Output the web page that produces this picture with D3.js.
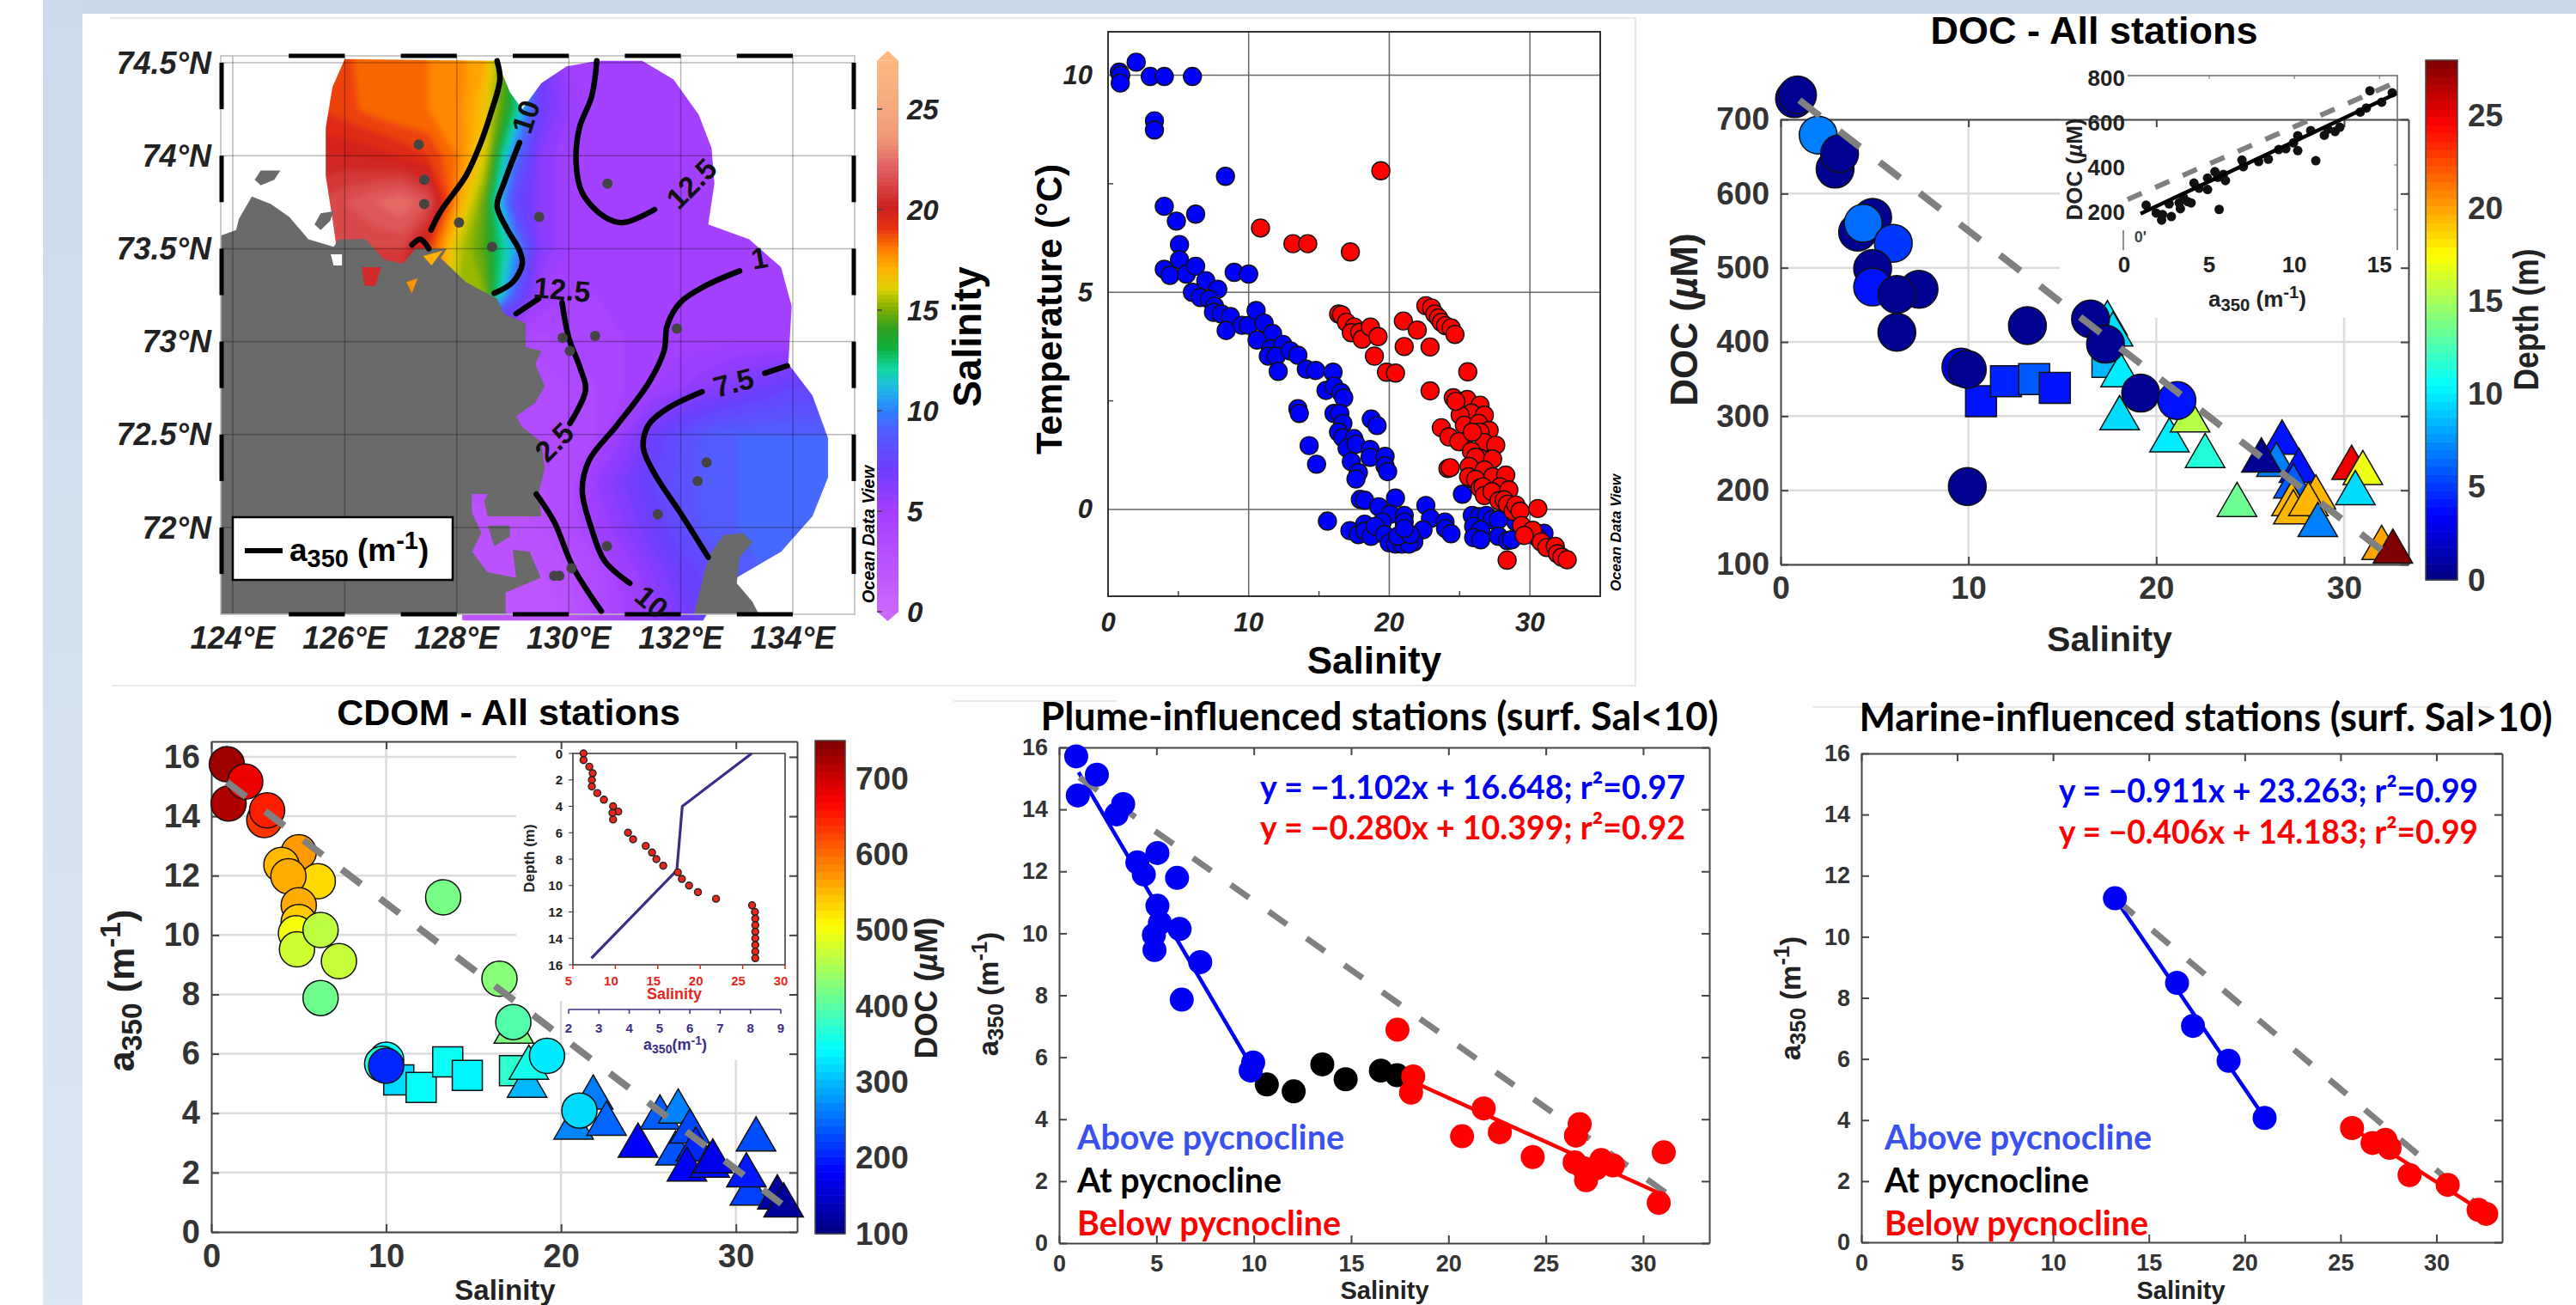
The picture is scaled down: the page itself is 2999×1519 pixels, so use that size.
<!DOCTYPE html>
<html>
<head>
<meta charset="utf-8">
<script src="https://cdn.jsdelivr.net/npm/d3@7"></script>
<style>
  body { margin: 0; background: #fff; }
  text { font-family: "Liberation Sans", Arial, sans-serif; }
  .cal { font-family: Lato, "Open Sans", sans-serif; font-weight: 700; }
</style>
</head>
<body>
<svg id="fig" width="2999" height="1519"></svg>
<script>
//Map data. Salinity on a 0.5 x 0.25 degree grid.
var gridLons = d3.range(125.5, 135.5, 0.5);
var gridLats = d3.range(74.5, 71.25, -0.25);
var salinityGrid = [
  18.7,18.6,18.3,18,18,17.8,17,13.5,7,5,4.5,4.5,4.5,4.5,4.5,4.5,4.5,4.5,4.5,4.5,
  19,18.7,18.3,18,18,17.8,16.5,13,7,5.5,4.5,4.5,4.5,4.5,4.5,4.5,4.5,4.5,4.5,4.5,
  20,20,19.8,19.5,19,18,16,10,6,5,4.5,4.5,4.5,4.5,4.5,4.5,4.5,4.5,4.5,4.5,
  21,21.5,22,22.5,21.5,17.5,14.5,8,6,5,4.5,4.5,4.5,4.5,4.5,4.5,4.5,4.5,4.5,4.5,
  21,21,21,21,19,15.8,14.3,11,6,5,4.5,4.5,4.5,4.5,4.5,4.5,4.5,4.5,4.5,4.5,
  20,20,20,20,18,15.5,15,9,5,4.5,4.5,4.5,4.5,4.5,4.5,4.5,4.6,4.6,4.6,4.6,
  4,4,4,4,4,4,4,4,3.8,4,4.3,4.5,4.5,4.8,4.8,5,5,5,5,5,
  3,3,3,3,3,3,3,3,3,3.5,4,4.5,5,5.5,6,6.5,7,7.5,7.5,7.5,
  3,3,3,3,3,3,3,3,3,3.5,4,5.5,7,8,8.7,9,9,9,9,9,
  3,3,3,3,3,3,3,3,3,3.5,5.5,6.5,7.5,8.2,8.8,9,9,9,9,9,
  2,2,2,2,2,2,2,2,2.5,3.5,5,6,7,8,8.7,9,9,9,9,9,
  2,2,2,2,2,2,2,2,2,2.5,3.5,5,6,7,7.7,8.5,9,9,9,9,
  1.5,1.5,1.5,1.5,1.5,1.5,1.5,1.5,1.5,2,3.5,4.5,5.5,6.5,7.5,8,8.5,9,9,9
];
var salinityDomain = [0,3,5,7,9,10,11,12,13,14,15,16,17,18,19,20,22,23.5,25,27.4];
var salinityColors = ['#cc66ff','#b44dff','#a23fff','#6f3cff','#4f5fff','#2a85ff','#20b8e8','#10d8a0','#10b040','#30a020','#80b000','#e0d000','#ffb000','#ff7a00','#e83010','#cc2020','#e06060','#f09878','#f5a880','#ffb880'];

var surveyOutline = [[126,74.52],[125.78,74.37],[125.66,74.15],[125.66,73.89],[125.78,73.66],[125.9,73.4],[127.5,72.9],[128,72.2],[128.1,71.5],[132.4,71.5],[132.77,71.69],[133.79,71.87],[134.35,72.06],[134.63,72.27],[134.63,72.48],[134.35,72.71],[133.92,72.88],[133.98,73.19],[133.79,73.4],[133.22,73.55],[132.49,73.63],[132.6,73.85],[132.55,74.04],[132.32,74.22],[131.87,74.41],[131.31,74.51],[130.52,74.51],[129.96,74.48],[129.51,74.39],[129.17,74.25],[128.95,74.34],[128.72,74.51]];
var landMain = [[123.7,73.56],[124.06,73.6],[124.11,73.66],[124.34,73.78],[124.68,73.74],[125.01,73.67],[125.35,73.55],[125.8,73.51],[125.9,73.55],[126.37,73.55],[126.71,73.44],[127.04,73.42],[127.26,73.5],[127.82,73.5],[127.71,73.45],[128.16,73.32],[128.72,73.23],[128.84,73.15],[129.23,73.1],[129.23,72.97],[129.51,72.95],[129.4,72.88],[129.57,72.76],[129.4,72.67],[129.06,72.6],[129.17,72.54],[129.51,72.46],[129.57,72.32],[129.46,72.18],[129.51,72.06],[128.55,72.06],[128.49,72.14],[128.55,72.18],[128.27,72.18],[128.27,72.08],[128.44,71.97],[128.27,71.87],[128.55,71.76],[129.06,71.73],[129.0,71.88],[129.3,71.87],[129.5,71.73],[128.87,71.65],[128.87,71.5],[123.7,71.5]];
var landEast = [[132.21,71.5],[132.43,71.77],[132.55,71.87],[132.77,71.96],[133.11,71.97],[133.28,71.92],[133.05,71.84],[133,71.7],[133.28,71.6],[133.45,71.5]];
var landIslands = [
  [[124.39,73.87],[124.5,73.92],[124.85,73.92],[124.74,73.87],[124.5,73.84]],
  [[125.57,73.69],[125.8,73.7],[125.74,73.65],[125.57,73.6],[125.46,73.63]],
  [[128.55,72.01],[128.95,72.01],[128.95,71.95],[128.67,71.9]]
];
var coastPatches = [
  ['#d02a2a', [[126.3,73.4],[126.65,73.4],[126.55,73.3],[126.35,73.3]]],
  ['#ff9000', [[127.1,73.32],[127.3,73.34],[127.2,73.26]]],
  ['#ffb000', [[127.4,73.46],[127.75,73.49],[127.55,73.41]]],
  ['#ffffff', [[125.75,73.47],[125.95,73.47],[125.95,73.41],[125.8,73.41]]]
];
var contourLines = [
  [[128.72,74.51],[128.77,74.41],[128.61,74.23],[128.39,74.04],[128.16,73.89],[127.71,73.7],[127.54,73.6]],
  [[127.2,73.52],[127.35,73.55],[127.5,73.5]],
  [[129.12,74.07],[128.84,73.85],[128.72,73.73],[128.89,73.61],[129.12,73.49],[129.17,73.42],[129,73.32],[128.67,73.26]],
  [[130.5,74.51],[130.41,74.32],[130.19,74.15],[130.13,73.96],[130.24,73.8],[130.64,73.67],[130.97,73.64],[131.53,73.71]],
  [[129.06,73.15],[129.46,73.23]],
  [[129.88,73.21],[130,73.02],[130.2,72.86],[130.3,72.74],[130.02,72.56]],
  [[133.05,73.38],[132.44,73.3],[131.99,73.21],[131.76,73.09],[131.7,72.95],[131.43,72.78],[130.86,72.55],[130.36,72.36],[130.24,72.2],[130.41,71.99],[130.64,71.82],[131.09,71.7]],
  [[133.9,72.87],[133.5,72.83]],
  [[132.38,72.73],[131.76,72.64],[131.42,72.55],[131.33,72.43],[131.53,72.29],[131.99,72.08],[132.49,71.84]],
  [[129.42,72.18],[129.74,72.03],[130.07,71.79],[130.58,71.55]]
];
var contourLabels = [
  ['10',129.23,74.21,-72],['12.5',132.19,73.85,-45],['12.5',129.88,73.28,5],['2.5',129.74,72.46,-45],
  ['7.5',132.94,72.78,-15],['10',131.48,71.6,40],['1',133.4,73.45,-10]
];
var stations = [[127.32,74.06],[127.42,73.87],[127.42,73.74],[128.04,73.64],[128.63,73.51],[129.47,73.67],[130.69,73.85],[129.89,73.02],[130.02,72.95],[130.47,73.03],[131.93,73.07],[132.46,72.35],[132.3,72.25],[131.59,72.07],[130.68,71.9],[129.74,71.74],[129.83,71.74],[130.05,71.78]];
var lonTicks = [124,126,128,130,132,134];
var latTicks = [74.5,74,73.5,73,72.5,72];
var salBarTicks = [0,5,10,15,20,25];

//T-S diagram.
var tsBlue = [[.8,10.07],[.9,10],[.87,9.82],[2,10.3],[3,9.97],[4,9.97],[6,9.97],[3.3,8.95],[3.3,8.74],[8.35,7.67],[4,6.98],[6.23,6.8],[4.86,6.64],[5.08,6.1],[5.08,5.75],[4,5.53],[4.4,5.39],[5.57,5.42],[6.23,5.6],[8.97,5.46],[10,5.42],[6,5],[6.95,5.27],[7.8,5.07],[6.57,4.88],[7.2,4.84],[7.57,4.68],[7.5,4.54],[8.07,4.5],[8.7,4.44],[8.4,4.12],[9.53,4.24],[10,4.24],[10.53,4.58],[11.1,4.29],[11.7,4.05],[10.6,3.9],[11.56,3.7],[12.43,3.8],[11.4,3.53],[11.96,3.53],[12.1,3.18],[12.96,3.65],[13.5,3.55],[14.1,3.23],[14.77,3.2],[16,3.16],[15.5,2.74],[16.07,2.84],[16.57,2.69],[16.76,2.57],[13.5,2.32],[13.6,2.21],[16.07,2.21],[16.48,2.21],[16.7,1.98],[16.39,1.78],[16.7,1.65],[17.48,1.63],[17,1.41],[17.63,1.5],[14.3,1.47],[14.83,1.04],[17.3,1.1],[17.8,.85],[17.63,.7],[18.72,2.08],[19.13,1.93],[18.63,1.38],[18.63,1.2],[19.7,1.22],[19.7,1],[19.88,.87],[17.94,.23],[18.25,.21],[20.44,.26],[15.6,-.27],[19.25,.06],[22.6,.09],[25.2,.35],[20.06,-.11],[21.06,-.14],[22.93,-.21],[23.96,-.29],[24,-.44],[24.39,-.56],[22.4,-.47],[21.74,-.75],[21.2,-.55],[21.06,-.29],[19.5,-.29],[17.2,-.49],[17.8,-.58],[18.25,-.34],[18.25,-.5],[18.7,-.62],[19,-.39],[19.66,-.58],[20,-.77],[20.44,-.8],[20.9,-.8],[21.4,-.8],[20.6,-.62],[21.5,-.58],[21.06,-.44],[25.9,-.14],[26.4,-.17],[26.9,-.14],[27.3,-.24],[27.76,-.24],[26,-.39],[26.5,-.47],[26,-.65],[26.5,-.7],[27.76,-.62],[28.4,-.72],[28.7,-.7],[29,-.29],[31,-.55],[30.55,-.65]];
var tsRed = [[10.84,6.48],[13.15,6.12],[14.2,6.12],[17.23,5.93],[19.4,7.8],[16.4,4.5],[16.6,4.48],[16.95,4.31],[17.5,4.2],[17.3,4.07],[17.9,4.08],[18.07,3.92],[18.66,4.2],[19.2,3.98],[18.94,3.53],[21,4.34],[21.99,4.13],[21.06,3.75],[22.9,3.74],[19.8,3.16],[20.44,3.14],[22.9,2.73],[22.6,4.69],[23,4.64],[23.24,4.5],[23.5,4.41],[23.7,4.31],[24,4.23],[24.4,4.18],[24.67,4.03],[25.58,3.17],[25.54,2.53],[26.45,2.4],[25.84,2.22],[26.76,2.17],[25.04,2.17],[25.34,1.94],[26.36,1.98],[27.1,1.82],[26.45,1.78],[26.76,1.54],[27.57,1.48],[25.04,1.56],[23.7,1.88],[24.24,1.67],[24.95,1.56],[25.84,1.34],[26.45,1.18],[26.14,1.2],[27.35,1.16],[24.17,.94],[24.33,.96],[25.68,.99],[26.76,.91],[27.35,.75],[28.28,.79],[25.76,.71],[25.64,.75],[26.14,.69],[26.45,.49],[26.66,.52],[27.88,.52],[26.76,.32],[27.3,.41],[28.5,.45],[27.8,.2],[28.17,.22],[28.4,.12],[28.8,-.04],[24.55,2.57],[24.73,2.49],[25.9,1.78],[29,.1],[29.3,-.04],[30.56,.02],[29.4,-.37],[30.2,-.48],[29.6,-.6],[30.8,-.75],[31.2,-.88],[31.8,-.85],[31.96,-1.02],[32.27,-1.1],[32.65,-1.16],[28.38,-1.17]];

//DOC panel: salinity, DOC, depth.
var docCircles = [[.74,728,.5],[.9,733,.5],[2,679,7],[2.9,633,.5],[3.14,654,.5],[4.9,568,.5],[4.1,548,.5],[4.4,560,6.5],[6,533,5],[4.9,499,.5],[4.9,474,4],[7.37,471,.5],[6.19,464,.5],[6.19,413,.5],[13.14,422,.5],[9.6,366,2.5],[9.94,363,.5],[9.94,205,.5],[16.5,431,.5],[17.3,397,.5],[19.17,331,.5],[21.1,321,4]];
var docSquares = [[10.67,320,4],[12,347,4.5],[13.5,350,6],[14.6,338,4],[17.4,373,8.5]];
var docTriangles = [[17.4,425,10],[17.7,410,9.5],[18.1,355,10],[18.05,297,9.5],[20.7,267,10],[22.6,246,11.5],[21.8,294,15.5],[24.3,180,13.5],[26.7,264,4],[26.4,234,7],[27.6,226,4],[27.3,205,6],[27.2,181,19.5],[27.3,170,19.5],[28.5,190,19.5],[28.1,181,19.5],[25.6,240,.5],[28.6,153,7],[30.4,230,25],[31,223,17],[30.6,196,9.5],[32,122,20],[32.6,117,28]];
var docDash = [[1,726],[32,119.5]];
var insetDoc = [[1.29,220],[1.88,185],[2.2,153],[2.25,178],[2.77,169],[2.64,226],[3.23,230],[3.3,204],[3.48,255],[3.73,236],[3.93,230],[4.1,319],[4.4,296],[4.9,290],[4.9,341],[5.33,370],[5.58,201],[5.5,345],[5.83,358],[5.95,330],[6.92,422],[7,392],[7.9,415],[8.47,426],[9.08,469],[9.5,473],[9.95,499],[10.2,531],[10.2,464],[10.96,554],[11.26,419],[11.76,533],[11.97,560],[12.39,550],[12.67,569],[13.87,637],[14.23,655],[14.44,732],[15.13,681],[15.75,723]];
var insetDocFit = [[.96,182],[16,720]];
var insetDocDash = [[.2,245],[16.1,774]];

//CDOM panel: salinity, a350, DOC.
var cdomCircles = [[.89,15.75,730],[.99,14.43,720],[1.94,15.17,680],[3.03,13.87,635],[3.19,14.2,650],[5,12.79,570],[4.01,12.36,550],[6.09,11.81,530],[4.41,11.98,560],[5,11,560],[5,10.44,540],[4.84,10.06,500],[4.9,9.52,475],[6.25,10.17,465],[7.3,9.12,470],[6.25,7.88,415],[13.26,11.27,420],[16.48,8.53,430],[17.27,7.07,397],[19.2,5.93,331],[21.05,4.09,320],[10,5.8,345],[9.77,5.66,365],[10,5.6,205]];
var cdomSquares = [[10.72,5.12,320],[12,4.87,347],[13.52,5.73,350],[14.64,5.27,338],[17.34,5.43,373]];
var cdomTriangles = [[17.3,6.74,425],[18.06,4.92,297],[18.16,5.53,355],[20.72,3.51,267],[21.84,4.52,260],[22.6,3.64,246],[24.4,2.9,180],[25.66,3.85,240],[26.7,4.05,264],[26.55,2.64,234],[27.37,3.38,226],[27.7,2.77,205],[27.2,2.1,181],[28.5,2.23,190],[28.68,2.37,170],[31.15,3.11,230],[30.8,1.29,223],[30.6,1.9,196],[32.37,1.16,122],[32.73,.89,117]];
var cdomDash = [[.89,15.15],[32.6,.95]];
var profileSal = [[6.25,0],[6.25,.5],[6.93,1],[7.33,1.5],[7.23,2],[7.23,2.5],[7.87,3],[8.65,3.5],[9.73,4],[10.34,4.4],[9.66,4.5],[9.73,5],[11.49,6],[12.09,6.5],[13.58,7],[14.32,7.5],[14.83,8],[15.64,8.5],[17.36,9],[17.84,9.5],[18.68,10],[19.73,10.5],[21.86,11],[26.11,11.5],[26.45,12],[26.49,12.5],[26.49,13],[26.49,13.5],[26.49,14],[26.49,14.5],[26.49,15],[26.49,15.5]];
var profileA350 = [[8.04,0],[5.75,4],[5.57,8.85],[2.75,15.5]];

//Plume panel.
var plumeAbove = [[.88,15.71],[.96,14.45],[1.94,15.12],[3.29,14.17],[2.95,13.84],[5.05,12.59],[4.02,12.29],[4.35,11.9],[6.06,11.79],[5.05,10.89],[5.18,10.33],[4.87,9.95],[4.9,9.46],[6.19,10.14],[7.25,9.07],[6.3,7.86],[9.97,5.83],[9.84,5.57]];
var plumeAt = [[10.67,5.12],[12.05,4.9],[13.52,5.77],[14.72,5.29],[16.53,5.57],[17.36,5.42]];
var plumeBelow = [[17.38,6.89],[18.19,5.38],[18.08,4.86],[20.7,3.45],[21.81,4.35],[22.64,3.58],[24.33,2.78],[26.74,3.84],[26.55,3.47],[26.48,2.61],[26.94,2.42],[27.07,2.03],[27.59,2.42],[27.85,2.68],[28.45,2.51],[31.06,2.93],[30.8,1.3]];
var plumeFitAbove = [[1,15.2],[9.8,5.8]];
var plumeFitBelow = [[17.36,5.44],[30.7,1.65]];
var plumeDash = [[1.04,15.03],[31.7,1.39]];

//Marine panel.
var marineAbove = [[13.23,11.26],[16.47,8.49],[17.3,7.08],[19.16,5.94],[21.04,4.07]];
var marineBelow = [[25.6,3.74],[26.67,3.25],[27.34,3.35],[27.56,3.09],[28.6,2.2],[30.59,1.88],[32.2,1.06],[32.6,.93]];
var marineFitAbove = [[13.23,11.26],[21.04,4.07]];
var marineFitBelow = [[25.6,3.74],[32.6,.93]];
var marineDash = [[13.33,11.2],[32.65,.96]];

var salTicks10 = [0,10,20,30];
var salTicks5 = [0,5,10,15,20,25,30];
var a350Ticks = [0,2,4,6,8,10,12,14,16];
var docTicks = [100,200,300,400,500,600,700];

var svg = d3.select('#fig');

//Page background.
var grad = svg.append('defs').append('linearGradient').attr('id', 'side')
  .attr('x1', 0).attr('x2', 0).attr('y1', 0).attr('y2', 1);
grad.append('stop').attr('offset', 0).attr('stop-color', '#cbdaec');
grad.append('stop').attr('offset', 1).attr('stop-color', '#dce7f4');
svg.append('rect').attr('x', 50).attr('y', 0).attr('width', 2949).attr('height', 16).attr('fill', '#c9d8ea');
svg.append('rect').attr('x', 50).attr('y', 0).attr('width', 46).attr('height', 1519).attr('fill', 'url(#side)');
svg.append('path').attr('d', 'M128 21H1904V798H130').attr('fill', 'none').attr('stroke', '#e2e2e2').attr('stroke-width', 1.5);
svg.append('path').attr('d', 'M1110 816H1300M2111 823H2900').attr('fill', 'none').attr('stroke', '#e2e2e2').attr('stroke-width', 1.5);

//Jet colormap used by the two colorbars.
var jet = d3.scaleLinear()
  .domain([0, .125, .375, .625, .875, 1])
  .range(['#00007f', '#0000ff', '#00ffff', '#ffff00', '#ff0000', '#7f0000']);

function addText(sel, x, y, str, size, opts) {
  opts = opts || {};
  var t = sel.append('text').attr('x', x).attr('y', y).text(str)
    .attr('font-size', size)
    .attr('font-weight', opts.weight || 'bold')
    .attr('fill', opts.fill || '#000')
    .attr('text-anchor', opts.anchor || 'middle')
    .attr('dominant-baseline', 'central');
  if (opts.italic) t.attr('font-style', 'italic');
  if (opts.cal) t.attr('class', 'cal');
  if (opts.len) t.attr('textLength', opts.len).attr('lengthAdjust', 'spacingAndGlyphs');
  if (opts.rotate !== undefined) t.attr('transform', 'rotate(' + opts.rotate + ' ' + x + ' ' + y + ')');
  return t;
}

//Appends a350 (m-1) with the sub and superscript
function a350Label(sel, x, y, size, opts) {
  opts = opts || {};
  var t = addText(sel, x, y, '', size, opts);
  var subSize = size * 0.78;
  t.append('tspan').text('a');
  t.append('tspan').attr('font-size', subSize).attr('dy', size * 0.28).text('350');
  t.append('tspan').attr('dy', -size * 0.28).text(opts.tight ? '(m' : ' (m');
  t.append('tspan').attr('font-size', subSize).attr('dy', -size * 0.3).text('-1');
  t.append('tspan').attr('dy', size * 0.3).text(')');
  return t;
}

function addDocLabel(sel, x, y, size, opts) {
  var t = addText(sel, x, y, 'DOC  (', size, opts);
  t.append('tspan').attr('font-style', 'italic').text('\u00b5');
  t.append('tspan').text('M)');
  return t;
}

//Box axes with inward ticks, the way MATLAB draws them.
function boxAxes(g, xS, yS, xTicks, yTicks, size, color) {
  var r = xS.range(), b = yS.range();
  var bottom = d3.axisBottom(xS).tickValues(xTicks).tickSizeInner(-9).tickSizeOuter(0).tickPadding(14).tickFormat(d3.format('d'));
  var left = d3.axisLeft(yS).tickValues(yTicks).tickSizeInner(-9).tickSizeOuter(0).tickPadding(13).tickFormat(d3.format('d'));
  var top = d3.axisTop(xS).tickValues(xTicks).tickSizeInner(-9).tickSizeOuter(0).tickFormat('');
  var right = d3.axisRight(yS).tickValues(yTicks).tickSizeInner(-9).tickSizeOuter(0).tickFormat('');
  var axes = [
    [bottom, 0, b[0]], [left, r[0], 0], [top, 0, b[1]], [right, r[1], 0]
  ];
  axes.forEach(function(a) {
    var ag = g.append('g').attr('transform', 'translate(' + a[1] + ',' + a[2] + ')').call(a[0]);
    ag.selectAll('path,line').attr('stroke', color || '#444').attr('stroke-width', 2);
    ag.selectAll('text').attr('font-size', size).attr('font-weight', 'bold').attr('fill', '#333')
      .attr('font-family', '"Liberation Sans", Arial, sans-serif');
  });
}

function gridLines(g, xS, yS, xTicks, yTicks) {
  g.selectAll('.gx').data(xTicks).enter().append('line')
    .attr('x1', xS).attr('x2', xS).attr('y1', yS.range()[0]).attr('y2', yS.range()[1])
    .attr('stroke', '#dcdcdc').attr('stroke-width', 2.5);
  g.selectAll('.gy').data(yTicks).enter().append('line')
    .attr('y1', yS).attr('y2', yS).attr('x1', xS.range()[0]).attr('x2', xS.range()[1])
    .attr('stroke', '#dcdcdc').attr('stroke-width', 2.5);
}

function drawLine(g, pts, xS, yS, color, width, dash) {
  var l = g.append('line')
    .attr('x1', xS(pts[0][0])).attr('y1', yS(pts[0][1]))
    .attr('x2', xS(pts[1][0])).attr('y2', yS(pts[1][1]))
    .attr('stroke', color).attr('stroke-width', width);
  if (dash) l.attr('stroke-dasharray', dash);
  return l;
}

function drawDots(g, pts, xS, yS, r, fill, stroke) {
  g.append('g').selectAll('circle').data(pts).enter().append('circle')
    .attr('cx', function(d) { return xS(d[0]); })
    .attr('cy', function(d) { return yS(d[1]); })
    .attr('r', r).attr('fill', fill)
    .attr('stroke', stroke || 'none').attr('stroke-width', stroke ? 1.4 : 0);
}

function drawSymbols(g, pts, type, size, xS, yS, color) {
  g.append('g').selectAll('path').data(pts).enter().append('path')
    .attr('d', d3.symbol().type(type).size(size))
    .attr('transform', function(d) { return 'translate(' + xS(d[0]) + ',' + yS(d[1]) + ')'; })
    .attr('fill', function(d) { return color(d[2]); })
    .attr('stroke', '#111').attr('stroke-width', 1.5);
}

function colorBar(g, x, w, cS, ticks, labelX, size) {
  var dom = cS.domain();
  var steps = d3.range(64);
  var step = (dom[1] - dom[0]) / 64;
  g.selectAll('.bar').data(steps).enter().append('rect')
    .attr('x', x).attr('width', w)
    .attr('y', function(i) { return cS(dom[0] + (i + 1) * step); })
    .attr('height', function(i) { return cS(dom[0] + i * step) - cS(dom[0] + (i + 1) * step) + .6; })
    .attr('fill', function(i) { return jet((i + .5) / 64); });
  g.append('rect').attr('x', x).attr('y', cS.range()[1]).attr('width', w)
    .attr('height', cS.range()[0] - cS.range()[1]).attr('fill', 'none').attr('stroke', '#444').attr('stroke-width', 1.5);
  ticks.forEach(function(t) {
    addText(g, labelX, cS(t), t, size, { anchor: 'start', fill: '#333' });
  });
}

//Panel A: the salinity map.
var mapG = svg.append('g');
var lonS = d3.scaleLinear().domain([124, 134]).range([271, 923]);
var latS = d3.scaleLinear().domain([74.5, 72]).range([73, 614]);
var lonLat = d3.line().x(function(d) { return lonS(d[0]); }).y(function(d) { return latS(d[1]); });
var defs = svg.select('defs');
defs.append('clipPath').attr('id', 'survey').append('path').attr('d', lonLat(surveyOutline) + 'Z');
defs.append('clipPath').attr('id', 'mapFrame').append('rect').attr('x', 257).attr('y', 65).attr('width', 738).attr('height', 650);
defs.append('filter').attr('id', 'soft').append('feGaussianBlur').attr('stdDeviation', 3);

var salColor = d3.scaleLinear().domain(salinityDomain).range(salinityColors);
var gridToMap = d3.geoTransform({
  point: function(px, py) {
    this.stream.point(lonS(gridLons[0] + (px - .5) * .5), latS(gridLats[0] - (py - .5) * .25));
  }
});
var bands = d3.contours().size([gridLons.length, gridLats.length]).thresholds(d3.range(0, 27.5, .5))(salinityGrid);
var fieldG = mapG.append('g').attr('clip-path', 'url(#survey)').append('g').attr('filter', 'url(#soft)');
fieldG.selectAll('path').data(bands).enter().append('path')
  .attr('d', d3.geoPath(gridToMap))
  .attr('fill', function(d) { return salColor(d.value + .25); });

var landG = mapG.append('g').attr('clip-path', 'url(#mapFrame)');
[landMain, landEast].concat(landIslands).forEach(function(poly) {
  landG.append('path').attr('d', lonLat(poly) + 'Z').attr('fill', '#6a6a6a');
});
coastPatches.forEach(function(p) {
  landG.append('path').attr('d', lonLat(p[1]) + 'Z').attr('fill', p[0]);
});

lonTicks.forEach(function(lon) {
  mapG.append('line').attr('x1', lonS(lon)).attr('x2', lonS(lon)).attr('y1', 65).attr('y2', 715)
    .attr('stroke', '#000').attr('stroke-opacity', .28).attr('stroke-width', 1.5);
  addText(mapG, lonS(lon), 742, lon + '\u00b0E', 36, { italic: true, fill: '#222' });
});
latTicks.forEach(function(lat) {
  mapG.append('line').attr('x1', 257).attr('x2', 995).attr('y1', latS(lat)).attr('y2', latS(lat))
    .attr('stroke', '#000').attr('stroke-opacity', .28).attr('stroke-width', 1.5);
  addText(mapG, 246, latS(lat), lat + '\u00b0N', 36, { italic: true, anchor: 'end', fill: '#222' });
});

//Dashed frame
mapG.append('rect').attr('x', 257).attr('y', 65).attr('width', 738).attr('height', 650)
  .attr('fill', 'none').attr('stroke', '#bbb').attr('stroke-width', 1.5);
d3.range(125, 134, 2).forEach(function(lon) {
  [65, 715].forEach(function(y) {
    mapG.append('line').attr('x1', lonS(lon)).attr('x2', lonS(lon + 1)).attr('y1', y).attr('y2', y)
      .attr('stroke', '#000').attr('stroke-width', 5);
  });
});
d3.range(71.75, 74.5, .5).forEach(function(lat) {
  [258, 994].forEach(function(x) {
    mapG.append('line').attr('x1', x).attr('x2', x).attr('y1', latS(lat + .25)).attr('y2', latS(lat))
      .attr('stroke', '#000').attr('stroke-width', 5);
  });
});

var contourPath = d3.line().x(function(d) { return lonS(d[0]); }).y(function(d) { return latS(d[1]); }).curve(d3.curveCatmullRom);
mapG.selectAll('.iso').data(contourLines).enter().append('path')
  .attr('d', contourPath).attr('fill', 'none').attr('stroke', '#000').attr('stroke-width', 6.5).attr('stroke-linecap', 'round');
contourLabels.forEach(function(d) {
  addText(mapG, lonS(d[1]), latS(d[2]), d[0], 34, { rotate: d[3], fill: '#111' });
});
drawDots(mapG, stations, lonS, latS, 6, '#444');

//Map legend
mapG.append('rect').attr('x', 271).attr('y', 602).attr('width', 256).attr('height', 73)
  .attr('fill', '#fff').attr('stroke', '#000').attr('stroke-width', 2.5);
mapG.append('line').attr('x1', 285).attr('x2', 329).attr('y1', 641).attr('y2', 641).attr('stroke', '#000').attr('stroke-width', 6);
a350Label(mapG, 337, 640, 37, { anchor: 'start' });

//Salinity colorbar with its end caps.
var salBar = d3.scaleLinear().domain([0, 25]).range([712, 127]);
d3.range(0, 27.4, .2).forEach(function(v) {
  mapG.append('rect').attr('x', 1021).attr('width', 25).attr('y', salBar(v + .2)).attr('height', salBar(v) - salBar(v + .2) + .6)
    .attr('fill', salColor(v));
});
mapG.append('path').attr('d', 'M1021 ' + salBar(27.4) + 'L1033.5 59L1046 ' + salBar(27.4) + 'Z').attr('fill', '#ffb880');
mapG.append('path').attr('d', 'M1021 ' + salBar(0) + 'L1033.5 723L1046 ' + salBar(0) + 'Z').attr('fill', '#cc66ff');
salBarTicks.forEach(function(t) {
  addText(mapG, 1056, salBar(t), t, 33, { anchor: 'start', italic: true, fill: '#222' });
  mapG.append('line').attr('x1', 1021).attr('x2', 1027).attr('y1', salBar(t)).attr('y2', salBar(t)).attr('stroke', '#444').attr('stroke-width', 1.5);
});
addText(mapG, 1126, 392, 'Salinity', 46, { rotate: -90 });
addText(mapG, 1011, 622, 'Ocean Data View', 20, { rotate: -90, italic: true });

//Panel B: temperature vs salinity.
var tsG = svg.append('g');
var tsX = d3.scaleLinear().domain([0, 35]).range([1290, 1863]);
var tsY = d3.scaleLinear().domain([-2, 11]).range([694, 37]);
salTicks10.slice(1).forEach(function(v) {
  tsG.append('line').attr('x1', tsX(v)).attr('x2', tsX(v)).attr('y1', 37).attr('y2', 694).attr('stroke', '#666').attr('stroke-width', 1.5);
});
[0, 5, 10].forEach(function(v) {
  tsG.append('line').attr('x1', 1290).attr('x2', 1863).attr('y1', tsY(v)).attr('y2', tsY(v)).attr('stroke', '#666').attr('stroke-width', 1.5);
  addText(tsG, 1272, tsY(v), v, 31, { anchor: 'end', italic: true, fill: '#222' });
});
salTicks10.forEach(function(v) {
  addText(tsG, tsX(v), 724, v, 31, { italic: true, fill: '#222' });
});
[5, 15, 25, 35].forEach(function(v) {
  tsG.append('line').attr('x1', tsX(v)).attr('x2', tsX(v)).attr('y1', 694).attr('y2', 688).attr('stroke', '#444').attr('stroke-width', 1.5);
});
[2.5, 7.5].forEach(function(v) {
  tsG.append('line').attr('x1', 1290).attr('x2', 1296).attr('y1', tsY(v)).attr('y2', tsY(v)).attr('stroke', '#444').attr('stroke-width', 1.5);
});
drawDots(tsG, tsBlue, tsX, tsY, 10.5, '#0000ff', '#111');
drawDots(tsG, tsRed, tsX, tsY, 10.5, '#ff0000', '#111');
tsG.append('rect').attr('x', 1290).attr('y', 37).attr('width', 573).attr('height', 657).attr('fill', 'none').attr('stroke', '#333').attr('stroke-width', 2);
addText(tsG, 1600, 768, 'Salinity', 44);
addText(tsG, 1221, 360, 'Temperature (\u00b0C)', 42, { rotate: -90 });
addText(tsG, 1881, 620, 'Ocean Data View', 17, { rotate: -90, italic: true });

//Panel C: DOC vs salinity.
var docG = svg.append('g');
var docX = d3.scaleLinear().domain([0, 33.43]).range([2073, 2804]);
var docY = d3.scaleLinear().domain([100, 700]).range([657, 139]);
var docDepthColor = function(v) { return jet(v / 28); };
gridLines(docG, docX, docY, salTicks10.slice(1), docTicks);
docG.append('rect').attr('x', 2398).attr('y', 74).attr('width', 403).attr('height', 296).attr('fill', '#fff');
boxAxes(docG, docX, docY, salTicks10, docTicks, 37);
drawSymbols(docG, docSquares, d3.symbolSquare, 1296, docX, docY, docDepthColor);
drawSymbols(docG, docTriangles, d3.symbolTriangle, 916, docX, docY, docDepthColor);
docG.append('g').selectAll('circle').data(docCircles).enter().append('circle')
  .attr('cx', function(d) { return docX(d[0]); }).attr('cy', function(d) { return docY(d[1]); })
  .attr('r', 22).attr('fill', function(d) { return docDepthColor(d[2]); }).attr('stroke', '#111').attr('stroke-width', 1.5);
drawLine(docG, docDash, docX, docY, '#808080', 8, '30 29');
addText(docG, 2438, 35, 'DOC - All stations', 45);
addText(docG, 2456, 744, 'Salinity', 41, { fill: '#222' });
addDocLabel(docG, 1960, 372, 44, { rotate: -90, fill: '#222' });
var depthBar = d3.scaleLinear().domain([0, 28]).range([675, 70]);
colorBar(docG, 2824, 37, depthBar, [0, 5, 10, 15, 20, 25], 2873, 37);
addText(docG, 2941, 372, 'Depth (m)', 40, { rotate: -90, fill: '#222', len: 165 });

//DOC inset
var inG = svg.append('g');
var inX = d3.scaleLinear().domain([0, 16]).range([2473, 2790]);
var inY = d3.scaleLinear().domain([0, 800]).range([296, 88]);
inG.append('path').attr('d', 'M2477 88H2791V291M2472 268V291').attr('fill', 'none').attr('stroke', '#666').attr('stroke-width', 1.5);
[5, 10, 15].forEach(function(v) {
  inG.append('line').attr('x1', inX(v)).attr('x2', inX(v)).attr('y1', 88).attr('y2', 92).attr('stroke', '#666');
});
[200, 400, 600].forEach(function(v) {
  inG.append('line').attr('x1', 2791).attr('x2', 2787).attr('y1', inY(v)).attr('y2', inY(v)).attr('stroke', '#666');
});
[200, 400, 600, 800].forEach(function(v) {
  addText(inG, 2474, inY(v) + 3, v, 26, { anchor: 'end', fill: '#222' });
});
[0, 5, 10, 15].forEach(function(v) {
  addText(inG, inX(v), 308, v, 26, { fill: '#222' });
});
addText(inG, 2492, 276, "0'", 18, { fill: '#444' });
drawLine(inG, insetDocDash, inX, inY, '#808080', 6, '18 17');
drawDots(inG, insetDoc, inX, inY, 5.5, '#111');
drawLine(inG, insetDocFit, inX, inY, '#000', 4.5);
addDocLabel(inG, 2415, 197, 26, { rotate: -90, fill: '#222' });
a350Label(inG, 2628, 348, 26, { fill: '#222' });

//Panel D: CDOM vs salinity.
var cdomG = svg.append('g');
var cdomX = d3.scaleLinear().domain([0, 33.5]).range([246, 928]);
var cdomY = d3.scaleLinear().domain([0, 16.52]).range([1434, 863]);
var cdomDocColor = function(v) { return jet((v - 100) / 650); };
gridLines(cdomG, cdomX, cdomY, salTicks10.slice(1), a350Ticks);
cdomG.append('rect').attr('x', 601).attr('y', 865).attr('width', 325).attr('height', 300).attr('fill', '#fff');
cdomG.append('rect').attr('x', 663).attr('y', 1160).attr('width', 263).attr('height', 74).attr('fill', '#fff');
boxAxes(cdomG, cdomX, cdomY, salTicks10, a350Ticks, 38);
drawSymbols(cdomG, cdomSquares, d3.symbolSquare, 1225, cdomX, cdomY, cdomDocColor);
drawSymbols(cdomG, cdomTriangles, d3.symbolTriangle, 916, cdomX, cdomY, cdomDocColor);
cdomG.append('g').selectAll('circle').data(cdomCircles).enter().append('circle')
  .attr('cx', function(d) { return cdomX(d[0]); }).attr('cy', function(d) { return cdomY(d[1]); })
  .attr('r', 20.5).attr('fill', function(d) { return cdomDocColor(d[2]); }).attr('stroke', '#111').attr('stroke-width', 1.5);
drawLine(cdomG, cdomDash, cdomX, cdomY, '#808080', 8, '28 28');
addText(cdomG, 592, 829, 'CDOM - All stations', 43);
addText(cdomG, 588, 1501, 'Salinity', 33, { fill: '#222' });
a350Label(cdomG, 141, 1153, 43, { rotate: -90, fill: '#222' });
var cdomBar = d3.scaleLinear().domain([100, 750]).range([1436, 862]);
colorBar(cdomG, 949, 35, cdomBar, [100, 200, 300, 400, 500, 600, 700], 996, 37);
addDocLabel(cdomG, 1078, 1150, 36, { rotate: -90, fill: '#222' });

//Depth profile inset
var prG = svg.append('g');
var prX = d3.scaleLinear().domain([5, 30]).range([667, 914]);
var prY = d3.scaleLinear().domain([0, 16]).range([877, 1123]);
var prA = d3.scaleLinear().domain([2, 9]).range([662, 909]);
prG.append('rect').attr('x', 667).attr('y', 877).attr('width', 247).attr('height', 246).attr('fill', '#fff').attr('stroke', '#333').attr('stroke-width', 1.5);
d3.range(0, 17, 2).forEach(function(v) {
  addText(prG, 655, prY(v), v, 15, { anchor: 'end', fill: '#222' });
  prG.append('line').attr('x1', 667).attr('x2', 662).attr('y1', prY(v)).attr('y2', prY(v)).attr('stroke', '#333');
});
d3.range(5, 31, 5).forEach(function(v) {
  addText(prG, prX(v) - 5, 1141, v, 15, { fill: '#e8261c' });
  prG.append('line').attr('x1', prX(v)).attr('x2', prX(v)).attr('y1', 1123).attr('y2', 1128).attr('stroke', '#e8261c').attr('stroke-width', 1.5);
});
prG.append('line').attr('x1', prA(2)).attr('x2', prA(9)).attr('y1', 1175).attr('y2', 1175).attr('stroke', '#3b2c85').attr('stroke-width', 1.5);
d3.range(2, 10).forEach(function(v) {
  prG.append('line').attr('x1', prA(v)).attr('x2', prA(v)).attr('y1', 1175).attr('y2', 1180).attr('stroke', '#3b2c85').attr('stroke-width', 1.5);
  addText(prG, prA(v), 1196, v, 15, { fill: '#3b2c85' });
});
prG.append('path').datum(profileA350)
  .attr('d', d3.line().x(function(d) { return prA(d[0]); }).y(function(d) { return prY(d[1]); }))
  .attr('fill', 'none').attr('stroke', '#3b2c85').attr('stroke-width', 3.2);
drawDots(prG, profileSal, prX, prY, 4, '#e8261c', '#222');
addText(prG, 785, 1157, 'Salinity', 18, { fill: '#e8261c' });
a350Label(prG, 786, 1216, 18, { fill: '#3b2c85', tight: true });
addText(prG, 616, 999, 'Depth (m)', 17, { rotate: -90, fill: '#222' });

//Panels E and F share one layout.
function stationPanel(cfg) {
  var g = svg.append('g');
  var x = d3.scaleLinear().domain([0, cfg.xMax]).range(cfg.xRange);
  var y = d3.scaleLinear().domain([0, 16]).range(cfg.yRange);
  boxAxes(g, x, y, salTicks5, a350Ticks, 27);
  cfg.fits.forEach(function(f) { drawLine(g, f[0], x, y, f[1], 4.5); });
  drawLine(g, cfg.dash, x, y, '#808080', 7, '26 28');
  cfg.groups.forEach(function(s) { drawDots(g, s[0], x, y, 14, s[1]); });
  addText(g, cfg.title[1], cfg.title[2], cfg.title[0], 45, { cal: true, len: cfg.title[3] });
  cfg.eqs.forEach(function(e) {
    addText(g, cfg.eqX, e[1], e[0], 38, { cal: true, fill: e[2], anchor: 'start', len: cfg.eqLen });
  });
  legendNames.forEach(function(name, i) {
    addText(g, cfg.legX, legendY[i], name, 41, { cal: true, fill: legendColors[i], anchor: 'start', len: legendLen[i] });
  });
  addText(g, cfg.salX, 1502, 'Salinity', 29, { fill: '#222' });
  a350Label(g, cfg.aX, cfg.aY, 33, { rotate: -90, fill: '#222' });
}

var legendNames = ['Above pycnocline', 'At pycnocline', 'Below pycnocline'];
var legendColors = ['#3a50f0', '#000', '#ff0000'];
var legendY = [1322, 1372, 1422];
var legendLen = [311, 238, 307];

stationPanel({
  xMax: 33.4, xRange: [1233, 1990], yRange: [1447, 870],
  groups: [[plumeAt, '#000'], [plumeBelow, '#ff0000'], [plumeAbove, '#0000f5']],
  fits: [[plumeFitAbove, '#0000f5'], [plumeFitBelow, '#ff0000']],
  dash: plumeDash,
  title: ['Plume-influenced stations (surf. Sal<10)', 1606, 833, 789],
  eqs: [['y = \u22121.102x + 16.648; r\u00b2=0.97', 915, '#0000f5'], ['y = \u22120.280x + 10.399; r\u00b2=0.92', 962, '#ff0000']],
  eqX: 1467, eqLen: 495,
  legX: 1254, salX: 1612, aX: 1150, aY: 1157
});

stationPanel({
  xMax: 33.43, xRange: [2167, 2913], yRange: [1446, 877],
  groups: [[marineBelow, '#ff0000'], [marineAbove, '#0000f5']],
  fits: [[marineFitAbove, '#0000f5'], [marineFitBelow, '#ff0000']],
  dash: marineDash,
  title: ['Marine-influenced stations (surf. Sal>10)', 2568, 834, 807],
  eqs: [['y = \u22120.911x + 23.263; r\u00b2=0.99', 919, '#0000f5'], ['y = \u22120.406x + 14.183; r\u00b2=0.99', 967, '#ff0000']],
  eqX: 2397, eqLen: 488,
  legX: 2194, salX: 2539, aX: 2084, aY: 1162
});
</script>
</body>
</html>
